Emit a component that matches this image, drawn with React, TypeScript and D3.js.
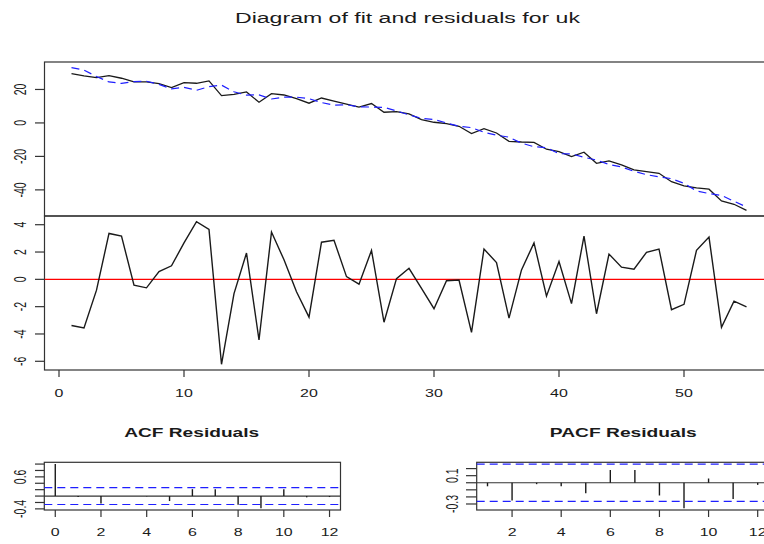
import * as d3 from 'd3';

// series (t = 1..55)
const actual = [
  29.5, 28.1, 27.1, 28.3, 26.7, 24.5, 24.5, 23.5, 21.1, 24.1,
  23.7, 25.1, 16.3, 17.1, 18.5, 12.4, 17.5, 16.7, 14.5, 11.8,
  14.9, 13.1, 11.2, 9.4, 11.6, 6.4, 6.8, 5.4, 2.0, 0.4,
  -0.4, -2.0, -6.4, -3.4, -6.0, -11.0, -11.4, -11.6, -15.7, -17.1,
  -20.1, -17.5, -24.1, -22.7, -25.1, -28.1, -29.1, -30.1, -35.1, -37.6,
  -38.8, -39.6, -46.6, -48.6, -52.2,
];
const fitted = [
  33.0, 31.6, 27.7, 24.5, 23.6, 24.7, 24.9, 23.0, 20.3, 21.3,
  19.5, 21.7, 22.6, 18.6, 16.6, 16.8, 14.3, 15.4, 15.4, 14.5,
  12.2, 10.6, 10.9, 9.6, 9.5, 9.3, 7.2, 4.8, 2.8, 2.0,
  0.0, -2.0, -2.8, -5.6, -7.3, -8.5, -12.1, -14.2, -14.8, -18.4,
  -18.5, -20.5, -22.2, -24.8, -26.3, -28.9, -30.9, -32.2, -33.3, -36.1,
  -40.6, -42.2, -43.3, -46.8, -50.2,
];
const residuals = [
  -3.38, -3.56, -0.79, 3.36, 3.16, -0.42, -0.62, 0.57, 0.99, 2.67,
  4.22, 3.65, -6.22, -1.04, 1.93, -4.44, 3.46, 1.43, -0.91, -2.77,
  2.72, 2.86, 0.2, -0.35, 2.12, -3.14, 0.05, 0.81, -0.67, -2.15,
  -0.1, -0.05, -3.88, 2.22, 1.23, -2.84, 0.69, 2.67, -1.23, 1.31,
  -1.78, 3.16, -2.52, 1.85, 0.89, 0.74, 1.98, 2.22, -2.22, -1.83,
  2.12, 3.09, -3.51, -1.6, -2.02,
];
const timeIdx = d3.range(1, residuals.length + 1);

const acfLags = [0, 1, 2, 3, 4, 5, 6, 7, 8, 9, 10, 11, 12];
const acfVals = [1, -0.03, -0.235, 0.005, -0.01, -0.155, 0.216, 0.216, -0.27, -0.38, 0.216, -0.04, -0.03];
const pacfLags = [1, 2, 3, 4, 5, 6, 7, 8, 9, 10, 11, 12];
const pacfVals = [-0.05, -0.25, -0.02, -0.05, -0.15, 0.18, 0.18, -0.18, -0.36, 0.06, -0.23, -0.03];
const ciBound = 0.264;

const mainTicksX = [0, 10, 20, 30, 40, 50];
const fitTicksY = [20, 0, -20, -40];
const resTicksY = [4, 2, 0, -2, -4, -6];
const acfTicksX = [0, 2, 4, 6, 8, 10, 12];
const acfTicksY = [-0.4, -0.2, 0, 0.2, 0.4, 0.6, 0.8, 1.0];
const acfLabelsY = ['-0.4', '0.6'];
const pacfTicksX = [2, 4, 6, 8, 10, 12];
const pacfTicksY = [-0.3, -0.2, -0.1, 0, 0.1, 0.2];
const pacfLabelsY = ['-0.3', '0.1'];

const FONT = '"Liberation Sans", Arial, Helvetica, sans-serif';
const INK = '#1a1a1a';
const BOX = '#333';
const BLUE = '#1f1fff';
const SX = 1.52; // the picture is stretched horizontally

// R-style axis range: extent padded by 4%
function rDomain(vals: number[]): [number, number] {
  const lo = d3.min(vals) ?? 0;
  const hi = d3.max(vals) ?? 1;
  const pad = (hi - lo) * 0.04;
  return [lo - pad, hi + pad];
}

function Label({ x, y, text, rotate = false, size = 10.5 }: { x: number; y: number; text: string; rotate?: boolean; size?: number }) {
  return (
    <text
      transform={`translate(${x},${y}) scale(${SX},1)${rotate ? ' rotate(-90)' : ''}`}
      textAnchor="middle"
      dy="0.36em"
      fontFamily={FONT}
      fontSize={size}
      fill={INK}
    >
      {text}
    </text>
  );
}

export default function App() {
  const W = 764;
  const H = 544;

  // main panels
  const x = d3.scaleLinear().domain(rDomain(timeIdx)).range([44.5, 773.5]);
  const yFit = d3.scaleLinear().domain(rDomain([...actual, ...fitted])).range([216, 62]);
  const yRes = d3.scaleLinear().domain(rDomain(residuals)).range([370, 216]);

  const fitLine = d3.line<number>().x((_, i) => x(timeIdx[i])).y(d => yFit(d));
  const resLine = d3.line<number>().x((_, i) => x(timeIdx[i])).y(d => yRes(d));

  // correlograms
  const xAcf = d3.scaleLinear().domain(rDomain(acfLags)).range([44.3, 340.5]);
  const yAcf = d3.scaleLinear().domain(rDomain([...acfVals, ciBound, -ciBound])).range([510, 462.3]);
  const xPacf = d3.scaleLinear().domain(rDomain(pacfLags)).range([476.7, 768.5]);
  const yPacf = d3.scaleLinear().domain(rDomain([...pacfVals, ciBound, -ciBound])).range([510, 462.3]);

  const [x0, x1] = x.range();

  return (
    <svg
      width={W}
      height={H}
      style={{ position: 'absolute', left: 0, top: 0, background: '#fff' }}
    >
      <rect width={W} height={H} fill="#fff" />

      <text
        x={407.5}
        y={23}
        textAnchor="middle"
        fontFamily={FONT}
        fontSize={15.5}
        fill={INK}
        textLength={345}
        lengthAdjust="spacingAndGlyphs"
      >
        Diagram of fit and residuals for uk
      </text>

      {/* fit panel */}
      <rect x={x0} y={62} width={x1 - x0} height={154} fill="none" stroke={BOX} strokeWidth={1.2} />
      <path d={fitLine(actual) ?? ''} fill="none" stroke={INK} strokeWidth={1.3} />
      <path d={fitLine(fitted) ?? ''} fill="none" stroke={BLUE} strokeWidth={1.2} strokeDasharray="8,5" />
      {fitTicksY.map(v => (
        <g key={`fy${v}`}>
          <line x1={35} x2={x0} y1={yFit(v)} y2={yFit(v)} stroke={BOX} strokeWidth={1.2} />
          <Label x={20} y={yFit(v)} text={String(v)} rotate />
        </g>
      ))}

      {/* residual panel */}
      <rect x={x0} y={216} width={x1 - x0} height={154} fill="none" stroke={BOX} strokeWidth={1.2} />
      <line x1={x0} x2={x1} y1={yRes(0)} y2={yRes(0)} stroke="#ff0000" strokeWidth={1.4} />
      <path d={resLine(residuals) ?? ''} fill="none" stroke={INK} strokeWidth={1.4} />
      {resTicksY.map(v => (
        <g key={`ry${v}`}>
          <line x1={35} x2={x0} y1={yRes(v)} y2={yRes(v)} stroke={BOX} strokeWidth={1.2} />
          <Label x={20} y={yRes(v)} text={String(v)} rotate />
        </g>
      ))}
      {mainTicksX.map(v => (
        <g key={`mx${v}`}>
          <line x1={x(v)} x2={x(v)} y1={370} y2={377} stroke={BOX} strokeWidth={1.2} />
          <Label x={x(v)} y={393} text={String(v)} />
        </g>
      ))}

      {/* ACF */}
      <text x={191.7} y={436.7} textAnchor="middle" fontFamily={FONT} fontSize={13.5} fontWeight="bold" fill={INK}
        textLength={135} lengthAdjust="spacingAndGlyphs">ACF Residuals</text>
      <rect x={44.3} y={462.3} width={340.5 - 44.3} height={47.7} fill="none" stroke={BOX} strokeWidth={1.2} />
      <line x1={44.3} x2={340.5} y1={yAcf(0)} y2={yAcf(0)} stroke={BOX} strokeWidth={1.2} />
      {[ciBound, -ciBound].map(c => (
        <line key={`ac${c}`} x1={44.3} x2={340.5} y1={yAcf(c)} y2={yAcf(c)} stroke={BLUE} strokeWidth={1.2} strokeDasharray="8,5" />
      ))}
      {acfVals.map((v, i) => (
        <line key={`ab${i}`} x1={xAcf(acfLags[i])} x2={xAcf(acfLags[i])} y1={yAcf(0)} y2={yAcf(v)} stroke={INK} strokeWidth={1.4} />
      ))}
      {acfTicksY.map(v => (
        <line key={`aty${v}`} x1={35} x2={44.3} y1={yAcf(v)} y2={yAcf(v)} stroke={BOX} strokeWidth={1.2} />
      ))}
      {acfLabelsY.map(s => (
        <Label key={`aly${s}`} x={20} y={yAcf(+s)} text={s} rotate />
      ))}
      {acfTicksX.map(v => (
        <g key={`atx${v}`}>
          <line x1={xAcf(v)} x2={xAcf(v)} y1={510} y2={517} stroke={BOX} strokeWidth={1.2} />
          <Label x={xAcf(v)} y={532} text={String(v)} />
        </g>
      ))}

      {/* PACF */}
      <text x={623.3} y={436.7} textAnchor="middle" fontFamily={FONT} fontSize={13.5} fontWeight="bold" fill={INK}
        textLength={147} lengthAdjust="spacingAndGlyphs">PACF Residuals</text>
      <rect x={476.7} y={462.3} width={768.5 - 476.7} height={47.7} fill="none" stroke={BOX} strokeWidth={1.2} />
      <line x1={476.7} x2={768.5} y1={yPacf(0)} y2={yPacf(0)} stroke={BOX} strokeWidth={1.2} />
      {[ciBound, -ciBound].map(c => (
        <line key={`pc${c}`} x1={476.7} x2={768.5} y1={yPacf(c)} y2={yPacf(c)} stroke={BLUE} strokeWidth={1.2} strokeDasharray="8,5" />
      ))}
      {pacfVals.map((v, i) => (
        <line key={`pb${i}`} x1={xPacf(pacfLags[i])} x2={xPacf(pacfLags[i])} y1={yPacf(0)} y2={yPacf(v)} stroke={INK} strokeWidth={1.4} />
      ))}
      {pacfTicksY.map(v => (
        <line key={`pty${v}`} x1={466} x2={476.7} y1={yPacf(v)} y2={yPacf(v)} stroke={BOX} strokeWidth={1.2} />
      ))}
      {pacfLabelsY.map(s => (
        <Label key={`ply${s}`} x={452} y={yPacf(+s)} text={s} rotate />
      ))}
      {pacfTicksX.map(v => (
        <g key={`ptx${v}`}>
          <line x1={xPacf(v)} x2={xPacf(v)} y1={510} y2={517} stroke={BOX} strokeWidth={1.2} />
          <Label x={xPacf(v)} y={532} text={String(v)} />
        </g>
      ))}
    </svg>
  );
}
